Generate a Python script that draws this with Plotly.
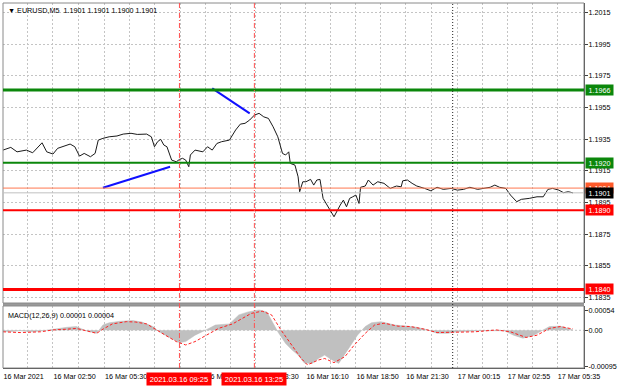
import plotly.graph_objects as go

# ---------------- data ----------------
# bar index = number of 5-minute bars since 16 Mar 2021 00:00
price_bar = [0, 5, 9, 15, 19, 25, 28, 32, 35, 39, 43, 46, 49, 52, 56, 59, 61, 64, 68, 73,
             77, 82, 86, 92, 95, 97, 99, 101, 103, 105, 108, 111, 113, 115, 117, 119, 120, 123, 128, 131,
             134, 137, 140, 145, 149, 152, 155, 158, 161, 164, 167, 170, 173, 176, 179, 181, 183, 184, 187, 189,
             190, 192, 194, 197, 199, 201, 203, 205, 208, 212, 216, 218, 220, 222, 224, 226, 228, 229, 232, 234,
             237, 240, 244, 248, 252, 255, 256, 259, 262, 265, 270, 274, 278, 282, 287, 291, 295, 299, 304, 308,
             312, 315, 318, 322, 325, 329, 332, 337, 342, 346, 349, 352, 356, 359, 362, 365]
price_val = [1.19280, 1.19297, 1.19269, 1.19280, 1.19263, 1.19326, 1.19269, 1.19255, 1.19291, 1.19305,
             1.19318, 1.19301, 1.19242, 1.19259, 1.19238, 1.19259, 1.19343, 1.19354, 1.19364, 1.19369,
             1.19381, 1.19386, 1.19379, 1.19381, 1.19364, 1.19301, 1.19333, 1.19348, 1.19312, 1.19301,
             1.19217, 1.19206, 1.19221, 1.19228, 1.19217, 1.19175, 1.19249, 1.19280, 1.19269, 1.19301,
             1.19280, 1.19322, 1.19333, 1.19343, 1.19407, 1.19444, 1.19449, 1.19470, 1.19501, 1.19512,
             1.19490, 1.19480, 1.19427, 1.19364, 1.19259, 1.19249, 1.19269, 1.19196, 1.19185, 1.19111,
             1.19017, 1.19080, 1.19080, 1.19095, 1.19059, 1.19091, 1.19095, 1.18975, 1.18922, 1.18859,
             1.18933, 1.18964, 1.18922, 1.18975, 1.18985, 1.18996, 1.18943, 1.19045, 1.19053, 1.19091,
             1.19059, 1.19080, 1.19070, 1.19038, 1.19053, 1.19048, 1.19086, 1.19091, 1.19070, 1.19053,
             1.19038, 1.19023, 1.19045, 1.19032, 1.19038, 1.19027, 1.19032, 1.19045, 1.19032, 1.19038,
             1.19045, 1.19059, 1.19045, 1.19038, 1.18996, 1.18954, 1.18969, 1.18975, 1.18985, 1.18985,
             1.19032, 1.19038, 1.19027, 1.19011, 1.19017, 1.19010]

hist_bar = [0, 3, 11, 19, 26, 32, 41, 47, 53, 60, 64, 68, 75, 83, 89, 96, 100, 104, 109, 113,
            117, 123, 130, 136, 145, 151, 157, 164, 169, 173, 176, 181, 185, 189, 193, 198, 202, 206, 210, 215,
            221, 227, 232, 236, 242, 251, 259, 265, 272, 278, 285, 291, 306, 321, 327, 333, 340, 346, 350, 357,
            363, 365]
hist_val = [-0.00002, -0.00004, -0.00001, -0.00004, -0.00001, 0.00003, 0.00008, 0.00010, -0.00001, -0.00008,
            0.00014, 0.00020, 0.00024, 0.00026, 0.00022, 0.00010, -0.00004, -0.00013, -0.00024, -0.00033,
            -0.00030, -0.00013, 0.00001, 0.00014, 0.00017, 0.00041, 0.00049, 0.00054, 0.00049, 0.00019,
            -0.00004, -0.00035, -0.00052, -0.00066, -0.00087, -0.00088, -0.00075, -0.00066, -0.00077, -0.00088,
            -0.00052, -0.00013, 0.00010, 0.00020, 0.00023, 0.00014, 0.00011, 0.00008, 0.00001, -0.00008,
            -0.00008, -0.00004, -0.00001, -0.00001, -0.00013, -0.00021, -0.00013, 0.00001, 0.00010, 0.00011,
            0.00005, 0.00001]

signal_bar = [0, 11, 24, 32, 41, 47, 53, 60, 64, 70, 79, 85, 92, 98, 104, 111, 117, 123, 130, 138,
              147, 153, 159, 166, 172, 178, 185, 191, 195, 202, 206, 212, 219, 225, 232, 238, 244, 253, 261, 270,
              278, 289, 302, 316, 325, 335, 342, 350, 357, 363, 365]
signal_val = [-0.00004, -0.00006, -0.00004, 0.00001, 0.00003, 0.00005, -0.00001, -0.00008, 0.00003, 0.00017,
              0.00023, 0.00022, 0.00017, 0.00001, -0.00013, -0.00030, -0.00039, -0.00030, -0.00013, 0.00005,
              0.00017, 0.00032, 0.00045, 0.00051, 0.00041, 0.00001, -0.00039, -0.00075, -0.00092, -0.00079,
              -0.00075, -0.00086, -0.00070, -0.00039, -0.00008, 0.00014, 0.00019, 0.00011, 0.00010, 0.00003,
              -0.00006, -0.00006, -0.00004, 0.00001, -0.00004, -0.00019, -0.00013, 0.00005, 0.00010, 0.00005,
              0.00004]

green_levels = [1.1966, 1.1920]
red_levels = [1.1890, 1.1840]
ask_price = 1.1904
bid_price = 1.1901

trend1_bar = [64, 107]
trend1_val = [1.19042, 1.19175]
trend2_bar = [134, 158]
trend2_val = [1.19670, 1.19512]

price_ticks = [1.2015, 1.1995, 1.1975, 1.1955, 1.1935, 1.1915, 1.1895, 1.1875, 1.1855, 1.1835]
macd_ticks = [0.00054, 0.0, -0.00095]
macd_tick_text = ["0.00054", "0.00", "-0.00095"]

time_tick_bar = [0, 32, 65, 97, 130, 162, 194, 226, 258, 291, 323, 355]
time_tick_text = ["16 Mar 2021", "16 Mar 02:50", "16 Mar 05:30", "16 Mar 08:10", "16 Mar 10:50",
                  "16 Mar 13:30", "16 Mar 16:10", "16 Mar 18:50", "16 Mar 21:30", "17 Mar 00:15",
                  "17 Mar 02:55", "17 Mar 05:35"]

marker_bar = [113, 161]
marker_text = ["2021.03.16 09:25", "2021.03.16 13:25"]
day_sep_bar = 288

title_text = "\u25BC EURUSD,M5  1.1901 1.1901 1.1900 1.1901"
macd_text = "MACD(12,26,9) 0.00001 0.00004"

# ---------------- figure ----------------
FONT = "Liberation Sans"
FS = 7.2
GRID = "#c4c4c4"
x_range = [0.0, 372.1]
main_dom = [0.178, 1.0]
macd_dom = [0.0, 0.1699]

fig = go.Figure()

fig.add_trace(go.Scatter(x=hist_bar, y=hist_val, xaxis="x", yaxis="y2", mode="lines",
                         line=dict(color="#bdbdbd", width=0.5), fill="tozeroy",
                         fillcolor="#c0c0c0", hoverinfo="skip"))
fig.add_trace(go.Scatter(x=signal_bar, y=signal_val, xaxis="x", yaxis="y2", mode="lines",
                         line=dict(color="#ff2020", width=1, dash="3px,2px"), hoverinfo="skip"))

fig.add_trace(go.Scatter(x=price_bar, y=price_val, xaxis="x", yaxis="y", mode="lines",
                         line=dict(color="#1a1a1a", width=1), hoverinfo="skip"))

for bx, by in ((trend1_bar, trend1_val), (trend2_bar, trend2_val)):
    fig.add_trace(go.Scatter(x=bx, y=by, xaxis="x", yaxis="y", mode="lines",
                             line=dict(color="#1010ff", width=2), hoverinfo="skip"))

shapes = []
shapes.append(dict(type="rect", xref="paper", yref="paper", x0=0, x1=1,
                   y0=macd_dom[1], y1=main_dom[0], fillcolor="#9a9a9a", line=dict(width=0), layer="above"))
shapes.append(dict(type="rect", xref="paper", yref="y domain", x0=0, x1=1, y0=0, y1=1,
                   line=dict(color="#8a8a8a", width=1), layer="above"))
shapes.append(dict(type="rect", xref="paper", yref="y2 domain", x0=0, x1=1, y0=0, y1=1,
                   line=dict(color="#8a8a8a", width=1), layer="above"))
shapes.append(dict(type="line", xref="paper", yref="y2", x0=0, x1=1, y0=0, y1=0,
                   line=dict(color=GRID, width=1, dash="2px,2px"), layer="below"))
for lv, w in zip(green_levels, [3, 2]):
    shapes.append(dict(type="line", xref="paper", yref="y", x0=0, x1=1, y0=lv, y1=lv,
                       line=dict(color="#0b870b", width=w)))
for lv, w in zip(red_levels, [2, 3]):
    shapes.append(dict(type="line", xref="paper", yref="y", x0=0, x1=1, y0=lv, y1=lv,
                       line=dict(color="#ff0000", width=w)))
shapes.append(dict(type="line", xref="paper", yref="y", x0=0, x1=1, y0=ask_price, y1=ask_price,
                   line=dict(color="#ff7850", width=1)))
shapes.append(dict(type="line", xref="paper", yref="y", x0=0, x1=1, y0=bid_price, y1=bid_price,
                   line=dict(color="#c0c0c0", width=1)))
for mb in marker_bar:
    shapes.append(dict(type="line", xref="x", yref="paper", x0=mb, x1=mb, y0=0, y1=1,
                       line=dict(color="#ff5050", width=1, dash="5px,2px,1px,2px")))
shapes.append(dict(type="line", xref="x", yref="paper", x0=day_sep_bar, x1=day_sep_bar, y0=0, y1=1,
                   line=dict(color="#202020", width=1, dash="1px,2px")))

annotations = []
annotations.append(dict(text=title_text, xref="paper", yref="paper", x=0, y=1, xanchor="left",
                        yanchor="top", xshift=3, yshift=-1, showarrow=False,
                        font=dict(family=FONT, size=FS, color="#000")))
annotations.append(dict(text=macd_text, xref="paper", yref="y2 domain", x=0, y=1, xanchor="left",
                        yanchor="top", xshift=3, yshift=-3, showarrow=False,
                        font=dict(family=FONT, size=FS, color="#000")))

box_items = [(green_levels[0], "#0b870b", "#ffffff"), (green_levels[1], "#0b870b", "#ffffff"),
             (ask_price, "#ff5a2a", "#ffffff"), (bid_price, "#000000", "#ffffff"),
             (red_levels[0], "#ff0000", "#ffffff"), (red_levels[1], "#ff0000", "#ffffff")]
for lv, bg, fg in box_items:
    annotations.append(dict(text=f"{lv:.4f}", xref="paper", yref="y", x=1, y=lv, xanchor="left",
                            yanchor="middle", xshift=1, showarrow=False, bgcolor=bg, width=27,
                            height=10, borderpad=0, align="center",
                            font=dict(family=FONT, size=FS, color=fg)))
for mb, mt in zip(marker_bar, marker_text):
    annotations.append(dict(text=mt, xref="x", yref="paper", x=mb, y=0, xanchor="center",
                            yanchor="top", yshift=-4, showarrow=False, bgcolor="#ff0000",
                            width=64, height=12, borderpad=0,
                            font=dict(family=FONT, size=7.5, color="#ffffff")))

grid_vals = []
grid_text = []
for k, (tb, tt) in enumerate(zip(time_tick_bar, time_tick_text)):
    grid_vals.append(tb)
    grid_text.append(tt)
    if k + 1 < len(time_tick_bar):
        grid_vals.append((tb + time_tick_bar[k + 1]) / 2)
        grid_text.append("")

fig.update_layout(
    width=620, height=388,
    margin=dict(l=3, r=32, t=3, b=20),
    paper_bgcolor="#ffffff", plot_bgcolor="#ffffff",
    showlegend=False, hovermode=False,
    font=dict(family=FONT, size=FS, color="#000"),
    xaxis=dict(anchor="y2", range=x_range, tickmode="array", tickvals=grid_vals, ticktext=grid_text,
               ticklabelposition="outside right", tickangle=0, ticks="", showgrid=True, gridcolor=GRID,
               griddash="2px,2px", gridwidth=1, zeroline=False, showline=True, linecolor="#404040",
               linewidth=1, ticklabelstandoff=1, tickfont=dict(family=FONT, size=FS, color="#000")),
    yaxis=dict(domain=main_dom, anchor="x", side="right", range=[1.18314, 1.20209], tickmode="array",
               tickvals=price_ticks, ticktext=[f"{v:.4f}" for v in price_ticks], ticks="outside",
               ticklen=3, tickcolor="#404040", showgrid=True, gridcolor=GRID, griddash="2px,2px",
               zeroline=False, showline=True, linecolor="#404040", linewidth=1, ticklabelstandoff=-1,
               tickfont=dict(family=FONT, size=FS, color="#000")),
    yaxis2=dict(domain=macd_dom, anchor="x", side="right", range=[-0.001003, 0.000647], tickmode="array",
                tickvals=macd_ticks, ticktext=macd_tick_text, ticks="outside", ticklen=3,
                tickcolor="#404040", showgrid=False, zeroline=False, showline=True, linecolor="#404040",
                linewidth=1, ticklabelstandoff=-1, tickfont=dict(family=FONT, size=FS, color="#000")),
    shapes=shapes,
    annotations=annotations,
)

fig.write_html("out.html", config={"displayModeBar": False},
               post_script="document.body.style.margin='0px';document.body.style.overflow='hidden';")
